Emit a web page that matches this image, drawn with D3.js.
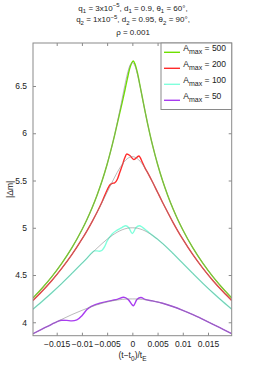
<!DOCTYPE html>
<html><head><meta charset="utf-8">
<script src="https://cdn.jsdelivr.net/npm/d3@7"></script>
<style>
html,body{margin:0;padding:0;background:#fff;}
svg{display:block;font-family:"Liberation Sans",Arial,Helvetica,sans-serif;}
</style></head>
<body><svg id="c" width="255" height="370"></svg>
<script>
// ---- data ----
const legendLabels = ["500", "200", "100", "50"];
const seriesColors = ["#6ee000", "#ff2a2a", "#80ffdc", "#a83cf0"];
const xTicks = [-0.015, -0.01, -0.005, 0, 0.005, 0.01, 0.015];
const xTickLabels = ["\u22120.015", "\u22120.01", "\u22120.005", "0", "0.005", "0.01", "0.015"];
const yTicks = [4, 4.5, 5, 5.5, 6, 6.5];
const yTickLabels = ["4", "4.5", "5", "5.5", "6", "6.5"];

// point-source (gray) curves
const tauGray = [-0.0197,-0.018,-0.016,-0.014,-0.012,-0.010,-0.009,-0.008,-0.007,-0.006,-0.005,-0.004,-0.0035,-0.003,-0.0025,-0.002,-0.0015,-0.001,-0.0005,0,0.0005,0.001,0.0015,0.002,0.0025,0.003,0.0035,0.004,0.005,0.006,0.007,0.008,0.009,0.010,0.012,0.014,0.016,0.018,0.0197];
const gray500 = [4.258,4.355,4.481,4.624,4.787,4.979,5.088,5.209,5.345,5.497,5.672,5.874,5.986,6.108,6.237,6.371,6.505,6.626,6.715,6.747,6.715,6.626,6.505,6.371,6.237,6.108,5.986,5.874,5.672,5.497,5.345,5.209,5.088,4.979,4.787,4.624,4.481,4.355,4.258];
const gray200 = [4.230,4.322,4.439,4.570,4.715,4.879,4.968,5.063,5.164,5.268,5.376,5.484,5.536,5.586,5.631,5.672,5.706,5.731,5.747,5.753,5.747,5.731,5.706,5.672,5.631,5.586,5.536,5.484,5.376,5.268,5.164,5.063,4.968,4.879,4.715,4.570,4.439,4.322,4.230];
const gray100 = [4.139,4.216,4.311,4.411,4.516,4.624,4.678,4.732,4.784,4.833,4.879,4.919,4.937,4.953,4.967,4.979,4.988,4.995,4.999,5.000,4.999,4.995,4.988,4.979,4.967,4.953,4.937,4.919,4.879,4.833,4.784,4.732,4.678,4.624,4.516,4.411,4.311,4.216,4.139];
const gray50 = [3.879,3.925,3.979,4.031,4.081,4.126,4.147,4.167,4.185,4.201,4.215,4.226,4.231,4.235,4.239,4.242,4.244,4.246,4.247,4.247,4.247,4.246,4.244,4.242,4.239,4.235,4.231,4.226,4.215,4.201,4.185,4.167,4.147,4.126,4.081,4.031,3.979,3.925,3.879];

// finite-source binary-lens (coloured) curves
const tau500 = [-0.0197,-0.018,-0.016,-0.014,-0.012,-0.010,-0.009,-0.008,-0.007,-0.006,-0.005,-0.004,-0.0035,-0.003,-0.0025,-0.002,-0.0015,-0.001,-0.0005,0.0002,0.0005,0.001,0.0015,0.002,0.0025,0.003,0.0035,0.004,0.005,0.006,0.007,0.008,0.009,0.010,0.012,0.014,0.016,0.018,0.0197];
const val500 = [4.258,4.355,4.481,4.624,4.787,4.979,5.088,5.209,5.345,5.497,5.672,5.874,5.982,6.100,6.215,6.330,6.450,6.575,6.690,6.765,6.735,6.640,6.510,6.373,6.237,6.108,5.986,5.874,5.672,5.497,5.345,5.209,5.088,4.979,4.787,4.624,4.481,4.355,4.258];
const tau200 = [-0.0197,-0.018,-0.016,-0.014,-0.012,-0.010,-0.009,-0.008,-0.007,-0.006,-0.005,-0.0045,-0.004,-0.0035,-0.003,-0.0025,-0.002,-0.0015,-0.0011,-0.0005,0.0003,0.0013,0.002,0.0025,0.003,0.0035,0.004,0.005,0.006,0.007,0.008,0.009,0.010,0.012,0.014,0.016,0.018,0.0197];
const val200 = [4.230,4.322,4.439,4.570,4.715,4.879,4.968,5.063,5.164,5.275,5.400,5.450,5.470,5.475,5.510,5.585,5.660,5.740,5.780,5.765,5.722,5.760,5.690,5.634,5.586,5.536,5.484,5.376,5.268,5.164,5.063,4.968,4.879,4.715,4.570,4.439,4.322,4.230];
const tau100 = [-0.0197,-0.018,-0.016,-0.014,-0.012,-0.010,-0.009,-0.008,-0.0075,-0.007,-0.0065,-0.006,-0.0055,-0.005,-0.004,-0.003,-0.002,-0.0013,-0.0007,0,0.0007,0.0014,0.002,0.003,0.004,0.005,0.006,0.007,0.008,0.009,0.010,0.012,0.014,0.016,0.018,0.0197];
const val100 = [4.139,4.216,4.311,4.411,4.516,4.624,4.678,4.738,4.755,4.755,4.752,4.762,4.800,4.860,4.935,4.975,5.005,5.022,5.000,4.940,5.000,5.022,5.005,4.962,4.919,4.879,4.833,4.784,4.732,4.678,4.624,4.516,4.411,4.311,4.216,4.139];
const tau50 = [-0.0197,-0.018,-0.016,-0.015,-0.014,-0.013,-0.012,-0.011,-0.010,-0.009,-0.008,-0.006,-0.004,-0.003,-0.0017,-0.0008,0.0002,0.0009,0.0017,0.0025,0.004,0.006,0.008,0.010,0.012,0.014,0.016,0.018,0.0197];
const val50 = [3.879,3.925,3.979,4.005,4.022,4.020,4.015,4.025,4.070,4.135,4.172,4.208,4.232,4.243,4.265,4.240,4.175,4.240,4.262,4.243,4.226,4.201,4.167,4.126,4.081,4.031,3.979,3.925,3.879];

// ---- build ----
const colored = [[tau500, val500], [tau200, val200], [tau100, val100], [tau50, val50]];
const grays = [gray500, gray200, gray100, gray50];

const svg = d3.select("#c");
const L = 33, T = 43, R = 231.7, B = 335.7;
const x = d3.scaleLinear().domain([-0.0197, 0.0197]).range([L, R]);
const y = d3.scaleLinear().domain([3.858, 6.955]).range([B, T]);
const axisCol = "#8a8a8a", textCol = "#222";

svg.append("defs").append("clipPath").attr("id", "clip")
  .append("rect").attr("x", L).attr("y", T).attr("width", R - L).attr("height", B - T);

const line = d3.line().x(d => x(d[0])).y(d => y(d[1])).curve(d3.curveMonotoneX);
const plot = svg.append("g").attr("clip-path", "url(#clip)");

colored.forEach(([t, v], i) => {
  plot.append("path").datum(t.map((tt, k) => [tt, v[k]]))
    .attr("d", line).attr("fill", "none")
    .attr("stroke", seriesColors[i]).attr("stroke-width", 1.4);
});
grays.forEach(g => {
  plot.append("path").datum(tauGray.map((tt, k) => [tt, g[k]]))
    .attr("d", line).attr("fill", "none")
    .attr("stroke", "#8c8c8c").attr("stroke-opacity", 0.75).attr("stroke-width", 0.8);
});

// axes
function styleAxis(g) {
  g.select(".domain").remove();
  g.selectAll(".tick line").attr("stroke", axisCol);
  g.selectAll(".tick text").attr("fill", textCol).style("font-size", "8.5px");
}
svg.append("g").attr("transform", `translate(0,${B})`)
  .call(d3.axisBottom(x).tickValues(xTicks).tickFormat((d, i) => xTickLabels[i]).tickSizeInner(-3).tickSizeOuter(0).tickPadding(5))
  .call(styleAxis);
svg.append("g").attr("transform", `translate(0,${T})`)
  .call(d3.axisTop(x).tickValues(xTicks).tickFormat("").tickSizeInner(-3).tickSizeOuter(0))
  .call(styleAxis);
svg.append("g").attr("transform", `translate(${L},0)`)
  .call(d3.axisLeft(y).tickValues(yTicks).tickFormat((d, i) => yTickLabels[i]).tickSizeInner(-3).tickSizeOuter(0).tickPadding(6))
  .call(styleAxis);
svg.append("g").attr("transform", `translate(${R},0)`)
  .call(d3.axisRight(y).tickValues(yTicks).tickFormat("").tickSizeInner(-3).tickSizeOuter(0))
  .call(styleAxis);

svg.append("rect").attr("x", L).attr("y", T).attr("width", R - L).attr("height", B - T)
  .attr("fill", "none").attr("stroke", axisCol).attr("stroke-width", 1);

// rich text helper
function rich(sel, parts, size, small) {
  let shift = 0;
  parts.forEach(([t, k]) => {
    const target = k === "sub" ? size * 0.35 : k === "sup" ? -size * 0.42 : 0;
    sel.append("tspan").attr("dy", target - shift)
      .style("font-size", (k === "n" ? size : small) + "px").text(t);
    shift = target;
  });
}

// title
const titleLines = [
  [["q", "n"], ["1", "sub"], [" = 3x10", "n"], ["\u22125", "sup"], [", d", "n"], ["1", "sub"], [" = 0.9, \u03b8", "n"], ["1", "sub"], [" = 60\u00b0,", "n"]],
  [["q", "n"], ["2", "sub"], [" = 1x10", "n"], ["\u22125", "sup"], [", d", "n"], ["2", "sub"], [" = 0.95, \u03b8", "n"], ["2", "sub"], [" = 90\u00b0,", "n"]],
  [["\u03c1 = 0.001", "n"]]
];
const titleY = [10.5, 22, 34.5];
titleLines.forEach((parts, i) => {
  const t = svg.append("text").attr("x", 133).attr("y", titleY[i])
    .attr("text-anchor", "middle").attr("fill", textCol);
  rich(t, parts, 8, 6);
});

// axis labels
const xl = svg.append("text").attr("x", 132.5).attr("y", 358).attr("text-anchor", "middle").attr("fill", textCol);
rich(xl, [["(t\u2212t", "n"], ["0", "sub"], [")/t", "n"], ["E", "sub"]], 8.5, 6.5);
svg.append("text").attr("transform", `translate(13,${(T + B) / 2}) rotate(-90)`)
  .attr("text-anchor", "middle").attr("fill", textCol).style("font-size", "8.5px").text("|\u0394m|");

// legend
const lg = svg.append("g");
lg.append("rect").attr("x", 161).attr("y", T).attr("width", R - 161).attr("height", 109.5 - T)
  .attr("fill", "#fff").attr("stroke", axisCol).attr("stroke-width", 1);
legendLabels.forEach((lab, i) => {
  const yy = 52.3 + i * 16;
  lg.append("line").attr("x1", 164).attr("x2", 180).attr("y1", yy).attr("y2", yy)
    .attr("stroke", seriesColors[i]).attr("stroke-width", 1.4);
  const t = lg.append("text").attr("x", 183.3).attr("y", yy - 1.2).attr("fill", textCol);
  rich(t, [["A", "n"], ["max", "sub"], [" = " + lab, "n"]], 8.5, 7);
});
</script></body></html>
